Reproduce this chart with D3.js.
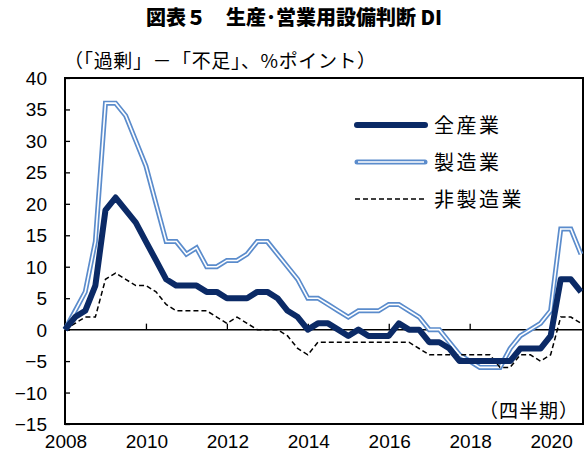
<!DOCTYPE html>
<html>
<head>
<meta charset="utf-8">
<script src="https://cdn.jsdelivr.net/npm/d3@7"></script>
<style>
  body { margin: 0; background: #fff; }
  text { font-family: "Noto Sans CJK JP", sans-serif; fill: #000; }
  .num { font-family: "Liberation Sans", Arial, sans-serif; }
</style>
</head>
<body>
<svg id="chart" width="586" height="454"></svg>
<script>
// quarterly data, 2008Q1 .. 2020Q4
var allInd = [0, 2, 3, 7, 19, 21, 19, 17, 14, 11, 8, 7, 7, 7, 6, 6,
              5, 5, 5, 6, 6, 5, 3, 2, 0, 1, 1, 0, -1, 0, -1, -1,
              -1, 1, 0, 0, -2, -2, -3, -5, -5, -5, -5, -5, -5, -3, -3, -3,
              -1, 8, 8, 6];
var mfg = [0, 3, 6, 14, 36, 36, 34, 30, 26, 20, 14, 14, 12, 13, 10, 10,
           11, 11, 12, 14, 14, 12, 10, 8, 5, 5, 4, 3, 2, 3, 3, 3,
           4, 4, 3, 2, 0, 0, -2, -4, -5, -6, -6, -6, -3, -1, 0, 1,
           3, 16, 16, 12];
var nonMfg = [0, 1, 2, 2, 8, 9, 8, 7, 7, 6, 4, 3, 3, 3, 3, 2,
              1, 2, 1, 0, 0, 0, -1, -3, -4, -2, -2, -2, -2, -2, -2, -2,
              -2, -2, -2, -3, -4, -4, -4, -4, -4, -4, -4, -6, -6, -4, -4, -5,
              -4, 2, 2, 1];
var seriesNames = ["全産業", "製造業", "非製造業"];
var yearTicks = [2008, 2010, 2012, 2014, 2016, 2018, 2020];
var yTicks = [-15, -10, -5, 0, 5, 10, 15, 20, 25, 30, 35, 40];

var svg = d3.select("#chart");
var m = {left: 65, right: 583, top: 78, bottom: 424};

var x = d3.scaleLinear().domain([0, 51.2]).range([m.left, m.right]);
var y = d3.scaleLinear().domain([-15, 40]).range([m.bottom, m.top]);

// title
svg.append("text")
    .attr("x", 294).attr("y", 25)
    .attr("text-anchor", "middle")
    .style("font-size", "20px")
    .style("font-weight", "900")
    .text("図表５　生産･営業用設備判断 DI");

svg.append("text")
    .attr("x", 64).attr("y", 68)
    .style("font-size", "19px")
    .style("letter-spacing", "0.6px")
    .text("（「過剰」－「不足」、%ポイント）");

// y axis ticks (inside) and labels
var yAxis = svg.append("g")
    .attr("transform", "translate(" + m.left + ",0)")
    .call(d3.axisRight(y).tickValues(yTicks).tickSize(5).tickFormat(""));
yAxis.select(".domain").remove();
yAxis.selectAll("line").attr("stroke", "#000").attr("stroke-width", 1.3);

svg.selectAll("text.ylab")
    .data(yTicks)
    .enter().append("text")
    .attr("class", "num ylab")
    .attr("x", m.left - 18)
    .attr("y", function(d) { return y(d) + 7; })
    .attr("text-anchor", "end")
    .style("font-size", "19px")
    .text(d3.format("d"));

// zero line with x ticks pointing up
var xAxis = svg.append("g")
    .attr("transform", "translate(0," + y(0) + ")")
    .call(d3.axisTop(x)
        .tickValues(yearTicks.map(function(t) { return (t - 2008) * 4; }))
        .tickSize(6).tickFormat(""));
xAxis.select(".domain").attr("stroke", "#000").attr("stroke-width", 1.5)
    .attr("d", "M" + m.left + ",0H" + m.right);
xAxis.selectAll("line").attr("stroke", "#000").attr("stroke-width", 1.3);

svg.selectAll("text.xlab")
    .data(yearTicks)
    .enter().append("text")
    .attr("class", "num xlab")
    .attr("x", function(d) { return x((d - 2008) * 4) + 1; })
    .attr("y", 448)
    .attr("text-anchor", "middle")
    .style("font-size", "19px")
    .text(function(d) { return d; });

// frame
svg.append("rect")
    .attr("x", m.left).attr("y", m.top)
    .attr("width", m.right - m.left).attr("height", m.bottom - m.top)
    .attr("fill", "none")
    .attr("stroke", "#000")
    .attr("stroke-width", 2);

var line = d3.line()
    .x(function(d, i) { return x(i); })
    .y(function(d) { return y(d); });

var g = svg.append("g");

// 製造業: double line
g.append("path").datum(mfg)
    .attr("d", line).attr("fill", "none")
    .attr("stroke", "#5b8ccc").attr("stroke-width", 5);
g.append("path").datum(mfg)
    .attr("d", line).attr("fill", "none")
    .attr("stroke", "#fff").attr("stroke-width", 1.6);

// 非製造業: dashed
g.append("path").datum(nonMfg)
    .attr("d", line).attr("fill", "none")
    .attr("stroke", "#000").attr("stroke-width", 1.5)
    .attr("stroke-dasharray", "5,3");

// 全産業: thick navy
g.append("path").datum(allInd)
    .attr("d", line).attr("fill", "none")
    .attr("stroke", "#0b2a66").attr("stroke-width", 6)
    .attr("stroke-linejoin", "round");

// legend
var lg = svg.append("g");
var rows = [125, 162, 199];
lg.append("line").attr("x1", 357).attr("x2", 425).attr("y1", rows[0]).attr("y2", rows[0])
    .attr("stroke", "#0b2a66").attr("stroke-width", 6).attr("stroke-linecap", "round");
lg.append("line").attr("x1", 357).attr("x2", 425).attr("y1", rows[1]).attr("y2", rows[1])
    .attr("stroke", "#5b8ccc").attr("stroke-width", 5).attr("stroke-linecap", "round");
lg.append("line").attr("x1", 358).attr("x2", 424).attr("y1", rows[1]).attr("y2", rows[1])
    .attr("stroke", "#fff").attr("stroke-width", 1.6);
lg.append("line").attr("x1", 355).attr("x2", 427).attr("y1", rows[2]).attr("y2", rows[2])
    .attr("stroke", "#000").attr("stroke-width", 1.5).attr("stroke-dasharray", "5,3");
lg.selectAll("text")
    .data(seriesNames)
    .enter().append("text")
    .attr("x", 434)
    .attr("y", function(d, i) { return rows[i] + 8; })
    .style("font-size", "20px")
    .style("letter-spacing", "2.5px")
    .text(function(d) { return d; });

svg.append("text")
    .attr("x", 579).attr("y", 418)
    .attr("text-anchor", "end")
    .style("font-size", "19px")
    .style("letter-spacing", "1px")
    .text("（四半期）");
</script>
</body>
</html>
